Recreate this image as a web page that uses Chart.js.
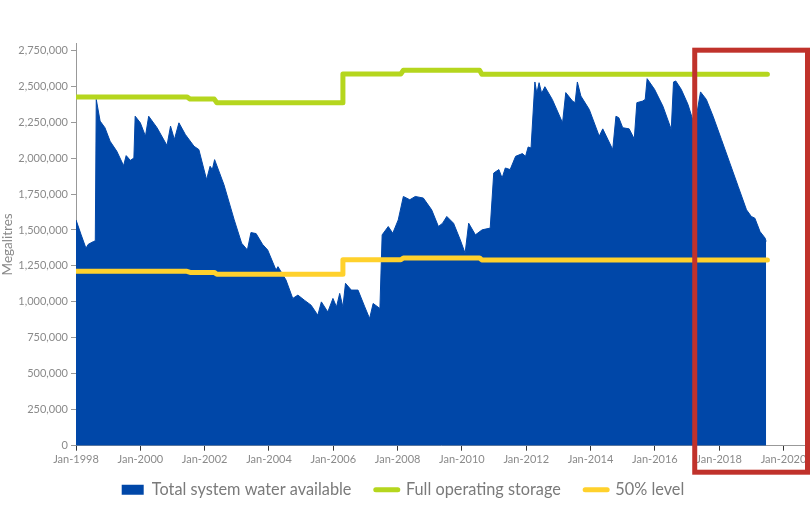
<!DOCTYPE html>
<html>
<head>
<meta charset="utf-8">
<script src="https://cdn.jsdelivr.net/npm/chart.js@4.4.1/dist/chart.umd.min.js"></script>
<style>
  html, body { margin: 0; padding: 0; background: #fff; }
  #wrap { width: 810px; height: 509px; }
</style>
</head>
<body>
<div id="wrap"><canvas id="water-chart"></canvas></div>
<script>
// Total system water available (decimal year, megalitres)
const waterYears = [
  1998.00, 1998.16, 1998.31, 1998.38, 1998.54, 1998.60, 1998.63, 1998.75, 1998.90, 1999.06,
  1999.27, 1999.48, 1999.56, 1999.69, 1999.80, 1999.84, 2000.00, 2000.16, 2000.26, 2000.52,
  2000.83, 2000.94, 2001.06, 2001.20, 2001.40, 2001.67, 2001.82, 2002.06, 2002.17, 2002.24,
  2002.31, 2002.60, 2002.92, 2003.15, 2003.33, 2003.44, 2003.60, 2003.80, 2003.96, 2004.22,
  2004.28, 2004.53, 2004.74, 2004.90, 2005.10, 2005.31, 2005.52, 2005.63, 2005.83, 2005.99,
  2006.10, 2006.20, 2006.30, 2006.38, 2006.56, 2006.77, 2006.98, 2007.13, 2007.24, 2007.45,
  2007.52, 2007.71, 2007.85, 2008.02, 2008.18, 2008.38, 2008.55, 2008.80, 2009.06, 2009.27,
  2009.40, 2009.53, 2009.74, 2009.95, 2010.10, 2010.21, 2010.42, 2010.63, 2010.88, 2010.99,
  2011.15, 2011.25, 2011.35, 2011.50, 2011.67, 2011.88, 2011.98, 2012.06, 2012.15, 2012.27,
  2012.33, 2012.40, 2012.48, 2012.58, 2012.81, 2013.13, 2013.23, 2013.44, 2013.52, 2013.59,
  2013.70, 2013.96, 2014.27, 2014.38, 2014.69, 2014.79, 2014.88, 2015.00, 2015.20, 2015.36,
  2015.44, 2015.62, 2015.70, 2015.76, 2015.99, 2016.25, 2016.51, 2016.58, 2016.65, 2016.82,
  2017.03, 2017.24, 2017.42, 2017.60, 2017.81, 2018.07, 2018.33, 2018.59, 2018.85, 2019.00,
  2019.11, 2019.27, 2019.43, 2019.46
];
const waterAvailable = [
  1570000, 1466000, 1373000, 1400000, 1419000, 1425000, 2408000, 2257000, 2211000, 2117000,
  2047000, 1947000, 2017000, 1984000, 2000000, 2291000, 2245000, 2152000, 2291000, 2211000,
  2087000, 2222000, 2129000, 2245000, 2164000, 2082000, 2059000, 1850000, 1943000, 1920000,
  1989000, 1815000, 1570000, 1408000, 1361000, 1482000, 1475000, 1400000, 1361000, 1221000,
  1245000, 1152000, 1024000, 1047000, 1012000, 977000, 907000, 1000000, 930000, 1024000,
  965000, 1059000, 965000, 1129000, 1082000, 1082000, 965000, 884000, 989000, 954000,
  1466000, 1524000, 1477000, 1570000, 1733000, 1710000, 1733000, 1722000, 1640000, 1524000,
  1547000, 1594000, 1547000, 1431000, 1338000, 1547000, 1466000, 1501000, 1513000, 1896000,
  1920000, 1861000, 1931000, 1920000, 2012000, 2031000, 2012000, 2077000, 2070000, 2529000,
  2450000, 2524000, 2450000, 2496000, 2408000, 2245000, 2455000, 2396000, 2385000, 2529000,
  2431000, 2338000, 2152000, 2203000, 2059000, 2291000, 2280000, 2211000, 2203000, 2133000,
  2385000, 2396000, 2408000, 2552000, 2478000, 2361000, 2199000, 2529000, 2536000, 2478000,
  2373000, 2222000, 2460000, 2408000, 2291000, 2129000, 1966000, 1803000, 1640000, 1594000,
  1582000, 1489000, 1443000, 1420000
];

// Full operating storage and 50% level (step changes)
const storageYears = [1998, 2001.45, 2001.55, 2002.30, 2002.38, 2006.30, 2006.30, 2008.10, 2008.18, 2010.55, 2010.62, 2019.50];
const fullStorage = [2425000, 2425000, 2410000, 2410000, 2385000, 2385000, 2585000, 2585000, 2610000, 2610000, 2583000, 2583000];
const halfStorage = [1212500, 1212500, 1205000, 1205000, 1192500, 1192500, 1292500, 1292500, 1305000, 1305000, 1291500, 1291500];

const yearTicks = [1998, 2000, 2002, 2004, 2006, 2008, 2010, 2012, 2014, 2016, 2018, 2020];
const volumeTicks = [0, 250000, 500000, 750000, 1000000, 1250000, 1500000, 1750000, 2000000, 2250000, 2500000, 2750000];
const seriesNames = ["Total system water available", "Full operating storage", "50% level"];
const highlightStart = 2017.24;

const toPoints = (xs, ys) => xs.map((x, i) => ({ x: x, y: ys[i] }));

const BLUE = "#0047a8";
const GREEN = "#b5d61e";
const YELLOW = "#ffd12c";
const RED = "#c0322b";
const FONT = "Lato, 'Open Sans', sans-serif";

// red box round the last part of the series
const highlightBox = {
  id: "highlightBox",
  afterDraw(chart) {
    const { ctx, chartArea, scales } = chart;
    const left = scales.x.getPixelForValue(highlightStart);
    const top = scales.y.getPixelForValue(2750000);
    ctx.save();
    ctx.strokeStyle = RED;
    ctx.lineWidth = 5;
    ctx.lineJoin = "miter";
    ctx.strokeRect(left, top, chart.width - 2.5 - left, chartArea.bottom + 26.5 - top);
    ctx.restore();
  }
};

new Chart("water-chart", {
  type: "line",
  data: {
    datasets: [
      {
        label: seriesNames[0],
        data: toPoints(waterYears, waterAvailable),
        backgroundColor: BLUE,
        borderColor: BLUE,
        borderWidth: 1,
        fill: "origin",
        pointRadius: 0,
        order: 2,
      },
      {
        label: seriesNames[1],
        data: toPoints(storageYears, fullStorage),
        borderColor: GREEN,
        backgroundColor: GREEN,
        borderWidth: 5,
        borderCapStyle: "round",
        borderJoinStyle: "round",
        fill: false,
        pointRadius: 0,
        order: 1,
      },
      {
        label: seriesNames[2],
        data: toPoints(storageYears, halfStorage),
        borderColor: YELLOW,
        backgroundColor: YELLOW,
        borderWidth: 5,
        borderCapStyle: "round",
        borderJoinStyle: "round",
        fill: false,
        pointRadius: 0,
        order: 0,
      },
    ]
  },
  options: {
    animation: false,
    responsive: true,
    maintainAspectRatio: false,
    layout: {
      padding: { left: 0, right: 4, top: 43, bottom: 1 }
    },
    scales: {
      x: {
        type: "linear",
        min: 1998,
        max: 2020.7,
        afterBuildTicks: (scale) => {
          scale.ticks = yearTicks.map(v => ({ value: v }));
        },
        afterFit: (scale) => {
          scale.paddingLeft = 0;
          scale.paddingRight = 0;
          scale.height = 20;
        },
        ticks: {
          autoSkip: false,
          maxRotation: 0,
          padding: 2,
          color: "#8a8a8a",
          font: { family: FONT, size: 11 },
          callback: (v) => "Jan-" + v,
        },
        grid: { drawOnChartArea: false, tickLength: 5, color: "#333" },
        border: { color: "#999", width: 1 },
      },
      y: {
        min: 0,
        max: 2800000,
        afterBuildTicks: (scale) => {
          scale.ticks = volumeTicks.map(v => ({ value: v }));
        },
        afterFit: (scale) => {
          scale.width = 76;
        },
        ticks: {
          padding: 3,
          color: "#8a8a8a",
          font: { family: FONT, size: 11 },
          callback: (v) => v.toLocaleString("en-US"),
        },
        grid: { drawOnChartArea: false, tickLength: 5, color: "#999" },
        border: { color: "#999", width: 1 },
        title: {
          display: true,
          text: "Megalitres",
          color: "#8a8a8a",
          padding: 0,
          font: { family: FONT, size: 13.5 },
        }
      }
    },
    plugins: {
      tooltip: { enabled: false },
      legend: {
        position: "bottom",
        labels: {
          usePointStyle: true,
          pointStyleWidth: 22,
          boxHeight: 10,
          padding: 16,
          color: "#7a7a7a",
          font: { family: FONT, size: 16.3 },
          generateLabels: (chart) => chart.data.datasets.map((ds, i, all) => ({
            // two trailing spaces widen the gap to the next item
            text: i < all.length - 1 ? ds.label + "  " : ds.label,
            fillStyle: ds.backgroundColor,
            strokeStyle: ds.borderColor,
            lineWidth: i === 0 ? 0 : 5,
            lineCap: "round",
            pointStyle: i === 0 ? "rect" : "line",
            fontColor: "#7a7a7a",
            hidden: false,
            datasetIndex: i,
          })),
        }
      }
    }
  },
  plugins: [highlightBox]
});
</script>
</body>
</html>
